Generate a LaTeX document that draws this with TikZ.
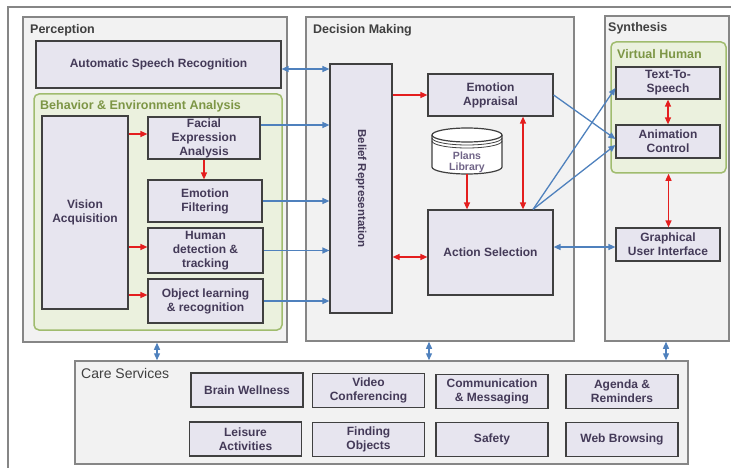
\documentclass[tikz,border=0pt]{standalone}
\usepackage{fontspec}
\setmainfont{Liberation Sans}
\usetikzlibrary{arrows.meta, calc}

\definecolor{boxfill}{RGB}{231,229,239}
\definecolor{boxline}{RGB}{64,64,64}
\definecolor{boxtext}{RGB}{68,58,88}
\definecolor{libtext}{RGB}{112,100,135}
\definecolor{contfill}{RGB}{242,242,242}
\definecolor{contline}{RGB}{134,134,134}
\definecolor{grnfill}{RGB}{235,241,222}
\definecolor{grnline}{RGB}{160,188,110}
\definecolor{grntext}{RGB}{125,150,70}
\definecolor{ttltext}{RGB}{64,64,64}
\definecolor{arrblue}{RGB}{79,129,189}
\definecolor{arrred}{RGB}{228,30,30}

\begin{document}
\begin{tikzpicture}[x=1pt, y=-1pt,
    box/.style={draw=boxline, fill=boxfill, line width=1.2pt, text=boxtext,
      font=\bfseries\fontsize{12}{14}\selectfont, align=center, inner sep=1pt},
    cont/.style={draw=contline, fill=contfill, line width=1.5pt},
    vcont/.style={draw=grnline, fill=grnfill, line width=1.5pt, rounded corners=5pt},
    ttl/.style={anchor=west, inner sep=0pt, text=ttltext, font=\bfseries\fontsize{12.5}{14}\selectfont},
    gttl/.style={ttl, text=grntext},
    tip/.style={-{Triangle[length=7pt, width=6pt]}},
    bitip/.style={{Triangle[length=7pt, width=6pt]}-{Triangle[length=7pt, width=6pt]}},
    barr/.style={draw=arrblue, line width=1.3pt, tip},
    bbarr/.style={draw=arrblue, line width=1.3pt, bitip},
    rarr/.style={draw=arrred, line width=1.3pt, tip},
    rrarr/.style={draw=arrred, line width=1.3pt, bitip},
  ]
  \useasboundingbox (0,0) rectangle (731,468);
  \draw[contline, line width=2pt] (8,468) -- (8,7) -- (731,7);

  % containers
  \node[cont, minimum width=264pt, minimum height=325pt] (perc) at (155,179.5) {};
  \node[cont, minimum width=268pt, minimum height=324pt] (dec) at (440,179) {};
  \node[cont, minimum width=124pt, minimum height=325pt] (synth) at (667,178.5) {};
  \node[cont, minimum width=613pt, minimum height=103pt] (care) at (381.5,412.5) {};
  \node[ttl] at (30,30) {Perception};
  \node[ttl] at (313,30) {Decision Making};
  \node[ttl] at (608,28) {Synthesis};
  \node[ttl, font=\fontsize{14}{16}\selectfont] at (81,373) {Care Services};

  % Perception
  \node[box, minimum width=245pt, minimum height=47pt] (asr) at (158.5,64.5) {Automatic Speech Recognition};
  \node[vcont, minimum width=248pt, minimum height=236pt] (bea) at (158,212) {};
  \node[gttl] at (40,106) {Behavior \& Environment Analysis};
  \node[box, minimum width=86pt, minimum height=193pt] (vision) at (85,212.5) {Vision\\Acquisition};
  \node[box, minimum width=112pt, minimum height=42pt] (facial) at (204,138) {Facial\\Expression\\Analysis};
  \node[box, minimum width=114pt, minimum height=42pt] (filter) at (205,201) {Emotion\\Filtering};
  \node[box, minimum width=115pt, minimum height=45pt] (human) at (205.5,250.5) {Human\\detection \&\\tracking};
  \node[box, minimum width=115pt, minimum height=44pt] (object) at (205.5,301) {Object learning\\\& recognition};

  % Decision Making
  \node[box, minimum width=62pt, minimum height=249pt] (belief) at (361,188.5) {};
  \node[text=boxtext, font=\bfseries\fontsize{11.5}{13}\selectfont, rotate=-90] at (belief.center) {Belief Representation};
  \node[box, minimum width=125pt, minimum height=42pt] (appraisal) at (490.5,95) {Emotion\\Appraisal};
  \node[box, minimum width=125pt, minimum height=85pt] (action) at (490.5,252.5) {Action Selection};
  % plans library drum
  \node[minimum width=70pt, minimum height=46pt, inner sep=0pt, outer sep=0pt] (plans) at (467,151) {};
  \draw[boxline, fill=white, line width=1.2pt] ($(plans.north west)+(0,7)$) -- ($(plans.south west)+(0,-7)$)
    arc[start angle=180, end angle=0, x radius=35, y radius=7] -- ($(plans.north east)+(0,7)$)
    arc[start angle=0, end angle=-180, x radius=35, y radius=7] -- cycle;
  \draw[boxline, line width=1.2pt] ($(plans.north west)+(0,7)$) arc[start angle=180, end angle=0, x radius=35, y radius=7];
  \draw[boxline, line width=0.8pt] ($(plans.north west)+(0,10)$) arc[start angle=180, end angle=0, x radius=35, y radius=7];
  \draw[boxline, line width=0.8pt] ($(plans.north west)+(0,13)$) arc[start angle=180, end angle=0, x radius=35, y radius=7];
  \node[text=libtext, align=center, inner sep=0pt, font=\bfseries\fontsize{10.5}{11.5}\selectfont]
    at ([yshift=-11.5pt]plans.center) {Plans\\Library};

  % Synthesis
  \node[vcont, minimum width=115pt, minimum height=131pt] (vh) at (668.5,107.5) {};
  \node[gttl] at (617,54) {Virtual Human};
  \node[box, minimum width=104pt, minimum height=32pt] (tts) at (668,83) {Text-To-\\Speech};
  \node[box, minimum width=104pt, minimum height=33pt] (anim) at (668,141.5) {Animation\\Control};
  \node[box, minimum width=104pt, minimum height=33pt] (gui) at (668,244.5) {Graphical\\User Interface};

  % Care Services
  \foreach \nm/\cx/\cy/\txt in {brain/247/390/{Brain Wellness}, video/368.5/390.5/{Video\\Conferencing},
      comm/492/391.5/{Communication\\\& Messaging}, agenda/622/391.5/{Agenda \&\\Reminders},
      leisure/245.5/439/{Leisure\\Activities}, finding/368.5/439.5/{Finding\\Objects},
      safety/492/439.5/{Safety}, web/622/439.5/{Web Browsing}} {
    \node[box, minimum width=112pt, minimum height=34pt] (\nm) at (\cx,\cy) {\txt};
  }

  % red arrows inside Behavior & Environment Analysis
  \coordinate (fa) at ([yshift=4pt]facial.west);
  \coordinate (hu) at ([yshift=3.5pt]human.west);
  \coordinate (ob) at ([yshift=6pt]object.west);
  \draw[rarr] (vision.east |- fa) -- (fa);
  \draw[rarr] (vision.east |- hu) -- (hu);
  \draw[rarr] (vision.east |- ob) -- (ob);
  \draw[rarr] (facial.south) -- (facial.south |- filter.north);

  % blue arrows into Belief Representation
  \coordinate (as) at ([yshift=-4.5pt]asr.east);
  \coordinate (fe) at ([yshift=13pt]facial.east);
  \draw[bbarr] (as) -- (as -| belief.west);
  \draw[barr] (fe) -- (fe -| belief.west);
  \draw[barr] (filter.east) -- (filter.east -| belief.west);
  \draw[barr] (human.east) -- (human.east -| belief.west);
  \draw[barr] (object.east) -- (object.east -| belief.west);

  % Decision Making arrows
  \draw[rarr] (belief.east |- appraisal.west) -- (appraisal.west);
  \draw[rrarr] ([xshift=32.5pt]appraisal.south) -- ([xshift=32.5pt]action.north);
  \draw[rarr] (plans.south) -- (plans.south |- action.north);
  \coordinate (ac) at ([yshift=-4.5pt]action.west);
  \draw[rrarr] (ac) -- (ac -| belief.east);

  % to Synthesis
  \draw[barr] (appraisal.east) -- ([yshift=2.5pt]anim.west);
  \draw[barr] ([xshift=42.5pt]action.north) -- ([yshift=-5pt]tts.west);
  \draw[barr] ([xshift=42.5pt]action.north) -- ([yshift=-3.5pt]anim.west);
  \coordinate (gu) at ([yshift=-2.5pt]gui.west);
  \draw[bbarr] (gu) -- (gu -| action.east);
  \draw[rrarr] (tts.south) -- (anim.north);
  \draw[rrarr] (vh.south) -- (vh.south |- gui.north);

  % to Care Services
  \draw[bbarr] ([xshift=2pt]perc.south) -- ([xshift=2pt]perc.south |- care.north);
  \draw[bbarr] ([xshift=-11pt]dec.south) -- ([xshift=-11pt]dec.south |- care.north);
  \draw[bbarr] ([xshift=-1pt]synth.south) -- ([xshift=-1pt]synth.south |- care.north);
\end{tikzpicture}
\end{document}
